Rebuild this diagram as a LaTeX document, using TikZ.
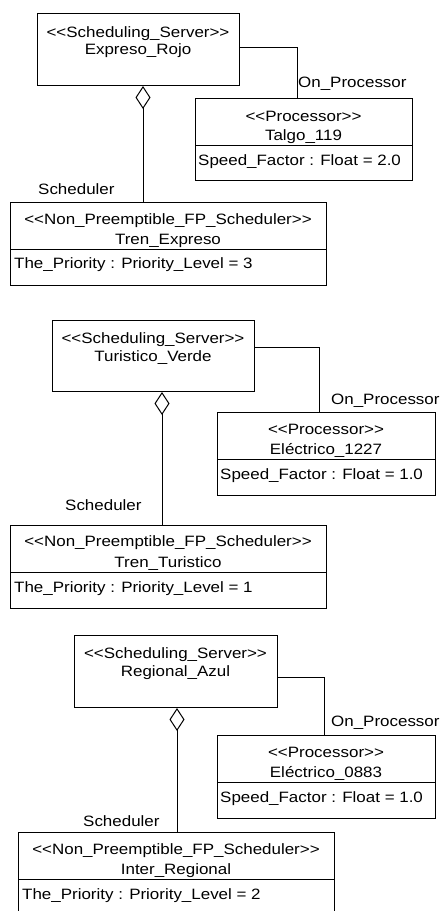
\documentclass[tikz,border=0pt]{standalone}
\usepackage{fontspec}
\setmainfont[FakeStretch=1.13]{Liberation Sans}
\usetikzlibrary{arrows.meta,calc}
\tikzset{
  box/.style={draw=black, line width=1pt, inner sep=0pt, anchor=north west, fill=white},
  txt/.style={inner sep=0pt, anchor=base, font=\fontsize{15}{17}\selectfont},
  attr/.style={inner sep=0pt, anchor=base west, font=\fontsize{15}{17}\selectfont},
  lbl/.style={inner sep=0pt, anchor=base west, font=\fontsize{15}{17}\selectfont},
  conn/.style={draw=black, line width=1pt},
  agg/.style={draw=black, line width=1pt, -{Diamond[open, length=23pt, width=15pt, line width=1pt]}},
  sep/.style={draw=black, line width=1pt}
}
\begin{document}
\begin{tikzpicture}[x=1pt, y=-1pt]
\useasboundingbox (0,0) rectangle (445,911);
\clip (0,0) rectangle (445,911);
\fill[white] (0,0) rectangle (445,911);

% ---------- Group 1 ----------
\node[box, minimum width=202pt, minimum height=72pt] (S1) at (37,13) {};
\node[txt] (S1a) at (138,37) {<{}<Scheduling\_Server>{}>};
\node[txt] (S1b) at (138,54) {Expreso\_Rojo};

\node[box, minimum width=217pt, minimum height=82pt] (P1) at (195,98) {};
\node[txt] (P1a) at (303.5,121) {<{}<Processor>{}>};
\node[txt] (P1b) at (303.5,140) {Talgo\_119};
\coordinate (P1d) at (195,145);
\draw[sep] (P1d) -- (P1d -| P1.east);
\node[attr] (P1c) at (198,165) {Speed\_Factor : Float = 2.0};

\node[box, minimum width=316pt, minimum height=83pt] (C1) at (10,202) {};
\node[txt] (C1a) at (168,224) {<{}<Non\_Preemptible\_FP\_Scheduler>{}>};
\node[txt] (C1b) at (168,244) {Tren\_Expreso};
\coordinate (C1d) at (10,249);
\draw[sep] (C1d) -- (C1d -| C1.east);
\node[attr] (C1c) at (14,268) {The\_Priority : Priority\_Level = 3};

\coordinate (S1r) at (239,47);
\coordinate (X1) at (297,0);
\draw[conn] (S1r) -| (P1.north -| X1);
\node[lbl] (L1a) at (298,87) {On\_Processor};
\coordinate (D1) at (143,0);
\draw[agg] (C1.north -| D1) -- (S1.south -| D1);
\node[lbl] (L1b) at (38,194) {Scheduler};

% ---------- Group 2 ----------
\node[box, minimum width=202pt, minimum height=71pt] (S2) at (52,320) {};
\node[txt] (S2a) at (153,343) {<{}<Scheduling\_Server>{}>};
\node[txt] (S2b) at (153,361) {Turistico\_Verde};

\node[box, minimum width=218pt, minimum height=83pt] (P2) at (217,412) {};
\node[txt] (P2a) at (326,434) {<{}<Processor>{}>};
\node[txt] (P2b) at (326,454) {Eléctrico\_1227};
\coordinate (P2d) at (217,459);
\draw[sep] (P2d) -- (P2d -| P2.east);
\node[attr] (P2c) at (220,479) {Speed\_Factor : Float = 1.0};

\node[box, minimum width=316pt, minimum height=83pt] (C2) at (10,525) {};
\node[txt] (C2a) at (168,546) {<{}<Non\_Preemptible\_FP\_Scheduler>{}>};
\node[txt] (C2b) at (168,567) {Tren\_Turistico};
\coordinate (C2d) at (10,572);
\draw[sep] (C2d) -- (C2d -| C2.east);
\node[attr] (C2c) at (14,592) {The\_Priority : Priority\_Level = 1};

\coordinate (S2r) at (254,347);
\coordinate (X2) at (319,0);
\draw[conn] (S2r) -| (P2.north -| X2);
\node[lbl] (L2a) at (331,404) {On\_Processor};
\coordinate (D2) at (162,0);
\draw[agg] (C2.north -| D2) -- (S2.south -| D2);
\node[lbl] (L2b) at (65,510) {Scheduler};

% ---------- Group 3 ----------
\node[box, minimum width=203pt, minimum height=72pt] (S3) at (74,635) {};
\node[txt] (S3a) at (175.5,658) {<{}<Scheduling\_Server>{}>};
\node[txt] (S3b) at (175.5,676) {Regional\_Azul};

\node[box, minimum width=218pt, minimum height=83pt] (P3) at (217,735) {};
\node[txt] (P3a) at (326,757) {<{}<Processor>{}>};
\node[txt] (P3b) at (326,777) {Eléctrico\_0883};
\coordinate (P3d) at (217,782);
\draw[sep] (P3d) -- (P3d -| P3.east);
\node[attr] (P3c) at (220,802) {Speed\_Factor : Float = 1.0};

\node[box, minimum width=316pt, minimum height=100pt] (C3) at (18,832) {};
\node[txt] (C3a) at (176,854) {<{}<Non\_Preemptible\_FP\_Scheduler>{}>};
\node[txt] (C3b) at (176,874) {Inter\_Regional};
\coordinate (C3d) at (18,879);
\draw[sep] (C3d) -- (C3d -| C3.east);
\node[attr] (C3c) at (22,899) {The\_Priority : Priority\_Level = 2};

\coordinate (S3r) at (277,677);
\coordinate (X3) at (324,0);
\draw[conn] (S3r) -| (P3.north -| X3);
\node[lbl] (L3a) at (331,726) {On\_Processor};
\coordinate (D3) at (177,0);
\draw[agg] (C3.north -| D3) -- (S3.south -| D3);
\node[lbl] (L3b) at (83,826) {Scheduler};
\end{tikzpicture}
\end{document}
